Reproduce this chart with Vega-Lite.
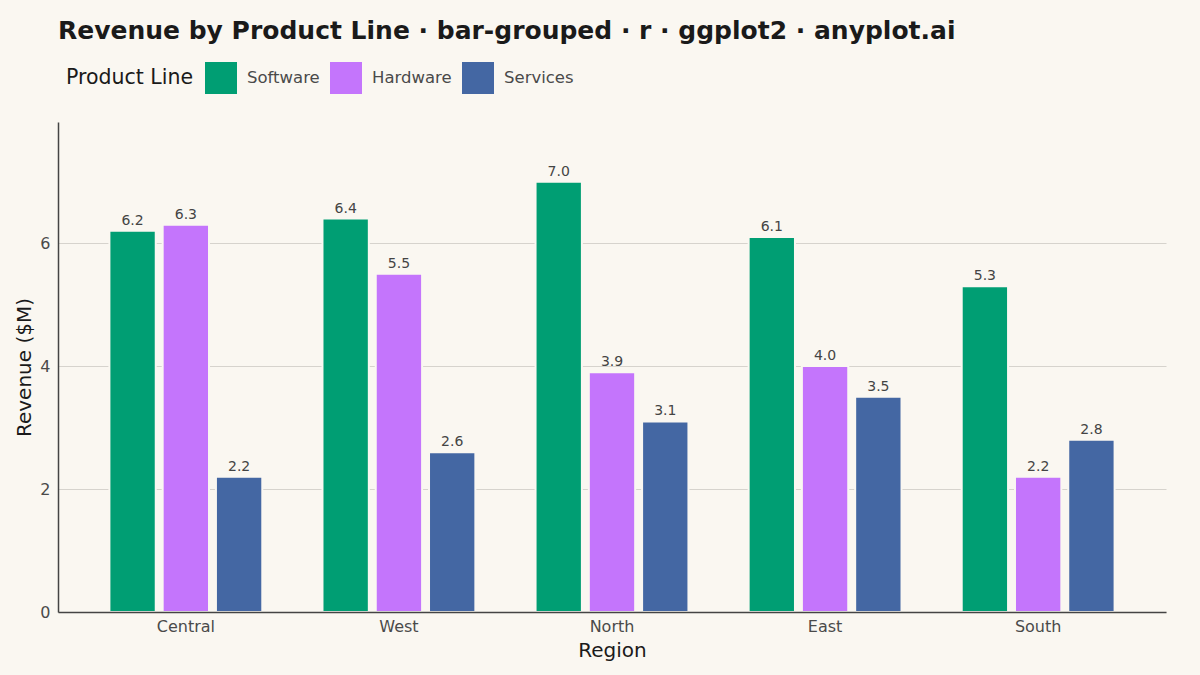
{
  "$schema": "https://vega.github.io/schema/vega-lite/v6.json",
  "description": "Revenue by product line, grouped bars per region",
  "autosize": "none",
  "width": 1108,
  "height": 490,
  "padding": {"left": 58, "top": 122, "right": 34, "bottom": 63},
  "background": "#FAF7F1",
  "title": {
    "text": "Revenue by Product Line · bar-grouped · r · ggplot2 · anyplot.ai",
    "anchor": "start",
    "font": "DejaVu Sans",
    "fontSize": 25,
    "fontWeight": "bold",
    "color": "#1A1A1A",
    "frame": "group",
    "offset": 18
  },
  "config": {
    "view": {"stroke": null},
    "font": "DejaVu Sans",
    "axis": {
      "labelFont": "DejaVu Sans",
      "titleFont": "DejaVu Sans",
      "labelFontSize": 16,
      "labelColor": "#4A4A4A",
      "titleFontSize": 20,
      "titleFontWeight": "normal",
      "titleColor": "#1A1A1A",
      "domainColor": "#444444",
      "domainWidth": 1.5,
      "ticks": false
    }
  },
  "data": {
    "values": [
      {"region": "Central", "product": "Software", "revenue": 6.2},
      {"region": "Central", "product": "Hardware", "revenue": 6.3},
      {"region": "Central", "product": "Services", "revenue": 2.2},
      {"region": "West", "product": "Software", "revenue": 6.4},
      {"region": "West", "product": "Hardware", "revenue": 5.5},
      {"region": "West", "product": "Services", "revenue": 2.6},
      {"region": "North", "product": "Software", "revenue": 7.0},
      {"region": "North", "product": "Hardware", "revenue": 3.9},
      {"region": "North", "product": "Services", "revenue": 3.1},
      {"region": "East", "product": "Software", "revenue": 6.1},
      {"region": "East", "product": "Hardware", "revenue": 4.0},
      {"region": "East", "product": "Services", "revenue": 3.5},
      {"region": "South", "product": "Software", "revenue": 5.3},
      {"region": "South", "product": "Hardware", "revenue": 2.2},
      {"region": "South", "product": "Services", "revenue": 2.8}
    ]
  },
  "encoding": {
    "x": {
      "field": "region",
      "type": "nominal",
      "sort": ["Central", "West", "North", "East", "South"],
      "scale": {"paddingInner": 0.25, "paddingOuter": 0.225},
      "axis": {"title": "Region", "labelAngle": 0, "labelPadding": 6, "titlePadding": 6, "grid": false, "zindex": 1}
    },
    "xOffset": {
      "field": "product",
      "type": "nominal",
      "sort": ["Software", "Hardware", "Services"],
      "scale": {"paddingInner": 0.13, "paddingOuter": 0.065}
    },
    "y": {
      "field": "revenue",
      "type": "quantitative",
      "scale": {"domain": [0, 7.97], "nice": false},
      "axis": {
        "title": "Revenue ($M)",
        "values": [0, 2, 4, 6],
        "grid": true,
        "gridColor": "#D6D3CD",
        "gridWidth": 1.2,
        "labelPadding": 8,
        "titlePadding": 5
      }
    }
  },
  "layer": [
    {
      "mark": {"type": "bar", "stroke": "#FAF7F1", "strokeWidth": 2},
      "encoding": {
        "color": {
          "field": "product",
          "type": "nominal",
          "sort": ["Software", "Hardware", "Services"],
          "scale": {"domain": ["Software", "Hardware", "Services"], "range": ["#009E73", "#C475FC", "#4467A3"]},
          "legend": {
            "title": "Product Line",
            "orient": "none",
            "legendX": 8,
            "legendY": -60,
            "direction": "horizontal",
            "titleOrient": "left",
            "titleFontSize": 20.5,
            "titleFontWeight": "normal",
            "titleColor": "#1A1A1A",
            "titlePadding": 11,
            "symbolType": "square",
            "symbolSize": 1024,
            "symbolStrokeWidth": 0,
            "labelFontSize": 16.5,
            "labelColor": "#4A4A4A",
            "labelOffset": 10,
            "columnPadding": 10
          }
        }
      }
    },
    {
      "mark": {"type": "text", "baseline": "bottom", "dy": -3, "fontSize": 14, "color": "#444444"},
      "encoding": {
        "text": {"field": "revenue", "type": "quantitative", "format": ".1f"}
      }
    }
  ]
}
